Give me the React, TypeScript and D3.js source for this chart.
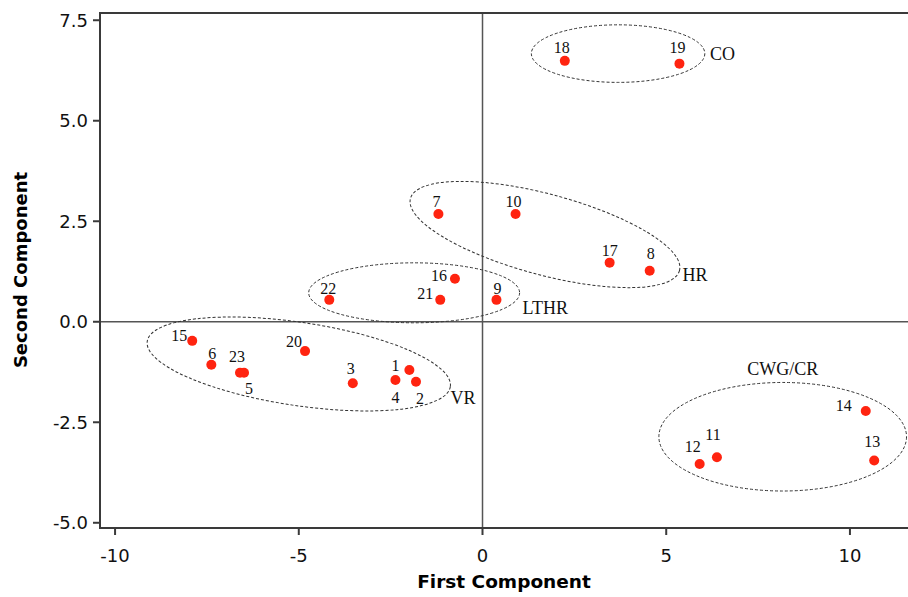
import React from "react";
import * as d3 from "d3";

// ---- data ----
const pointIds = ["1","2","3","4","5","6","7","8","9","10","11","12","13","14","15","16","17","18","19","20","21","22","23"];
const firstComp = [-1.99, -1.81, -3.53, -2.37, -6.49, -7.38, -1.20, 4.55, 0.38, 0.90, 6.38, 5.91, 10.66, 10.43, -7.90, -0.75, 3.46, 2.24, 5.36, -4.83, -1.15, -4.17, -6.60];
const secondComp = [-1.20, -1.49, -1.53, -1.45, -1.27, -1.07, 2.68, 1.27, 0.545, 2.68, -3.37, -3.54, -3.45, -2.22, -0.475, 1.07, 1.47, 6.49, 6.42, -0.73, 0.545, 0.545, -1.27];

const xTicks = [-10, -5, 0, 5, 10];
const xTickLabels = ["-10", "-5", "0", "5", "10"];
const yTicks = [7.5, 5, 2.5, 0, -2.5, -5];
const yTickLabels = ["7.5", "5.0", "2.5", "0.0", "-2.5", "-5.0"];

const groupNames = ["CO", "HR", "LTHR", "VR", "CWG/CR"];
const groupCx = [3.69, 1.70, -1.86, -5.0, 8.17];
const groupCy = [6.67, 2.17, 0.72, -1.05, -2.86];
const groupRx = [2.36, 3.79, 2.87, 4.17, 3.37];
const groupRy = [0.716, 1.005, 0.746, 1.035, 1.35];
const groupAngle = [0, 15, 0, 8.5, 0];
const groupLabelX = [6.19, 5.44, 1.09, -0.87, 8.17];
const groupLabelY = [6.67, 1.16, 0.34, -1.90, -1.16];

// ---- layout (label placement) ----
const labelPlacement: Record<string, [number, number, string]> = {
  "1": [-10, 1, "end"], "2": [4, 22, "middle"], "3": [-2, -9, "middle"], "4": [0, 23, "middle"],
  "5": [5, 21, "middle"], "6": [1, -6, "middle"], "7": [-2, -7, "middle"], "8": [1, -12, "middle"],
  "9": [1, -6, "middle"], "10": [-2, -7, "middle"], "11": [-4, -17, "middle"], "12": [-7, -12, "middle"],
  "13": [-2, -13, "middle"], "14": [-14, 0, "end"], "15": [-5, 0, "end"], "16": [-8, 2, "end"],
  "17": [0, -7, "middle"], "18": [-3, -8, "middle"], "19": [-2, -11, "middle"], "20": [-3, -4, "end"],
  "21": [-7, -1, "end"], "22": [-1, -6, "middle"], "23": [-3, -11, "middle"],
};
const groupAnchor = ["start", "start", "start", "start", "middle"];

const W = 908, H = 597;
const L = 100, R = 908, T = 13, B = 528;

export default function App() {
  const x = d3.scaleLinear().domain([-10.41, 11.58]).range([L, R]);
  const y = d3.scaleLinear().domain([-5.13, 7.68]).range([B, T]);
  const kx = Math.abs(x(1) - x(0));
  const ky = Math.abs(y(1) - y(0));
  const tickFont = "'DejaVu Sans', Verdana, sans-serif";
  const serif = "'Liberation Serif', 'Times New Roman', serif";
  const axisColor = "#3a3a3a";

  return (
    <svg width={W} height={H} style={{ position: "absolute", left: 0, top: 0, background: "#fff" }}>
      {/* zero lines */}
      <line x1={x(0)} x2={x(0)} y1={T} y2={B} stroke="#555" strokeWidth={1.5} />
      <line x1={L} x2={R} y1={y(0)} y2={y(0)} stroke="#555" strokeWidth={1.5} />

      {/* group ellipses */}
      {groupNames.map((g, i) => (
        <ellipse
          key={g}
          cx={x(groupCx[i])}
          cy={y(groupCy[i])}
          rx={groupRx[i] * kx}
          ry={groupRy[i] * ky}
          transform={`rotate(${groupAngle[i]} ${x(groupCx[i])} ${y(groupCy[i])})`}
          fill="none"
          stroke="#333"
          strokeWidth={1}
          strokeDasharray="3,2"
        />
      ))}
      {groupNames.map((g, i) => (
        <text
          key={"gl" + g}
          x={x(groupLabelX[i])}
          y={y(groupLabelY[i])}
          dy="0.35em"
          textAnchor={groupAnchor[i] as any}
          fontFamily={serif}
          fontSize={18}
          fill="#111"
        >
          {g}
        </text>
      ))}

      {/* points */}
      {pointIds.map((id, i) => (
        <circle key={"p" + id} cx={x(firstComp[i])} cy={y(secondComp[i])} r={5} fill="#ff2410" />
      ))}
      {pointIds.map((id, i) => {
        const [dx, dy, anchor] = labelPlacement[id];
        return (
          <text
            key={"t" + id}
            x={x(firstComp[i]) + dx}
            y={y(secondComp[i]) + dy}
            textAnchor={anchor as any}
            fontFamily={serif}
            fontSize={16}
            fill="#111"
          >
            {id}
          </text>
        );
      })}

      {/* frame / axes */}
      <line x1={L} x2={R} y1={T} y2={T} stroke={axisColor} strokeWidth={2.2} />
      <line x1={L} x2={L} y1={T - 1} y2={B + 1} stroke={axisColor} strokeWidth={2} />
      <line x1={L - 1} x2={R} y1={B} y2={B} stroke={axisColor} strokeWidth={2} />

      {yTicks.map((t, i) => (
        <g key={"yt" + t}>
          <line x1={L - 7} x2={L} y1={y(t)} y2={y(t)} stroke={axisColor} strokeWidth={2} />
          <text x={L - 12} y={y(t)} dy="0.36em" textAnchor="end" fontFamily={tickFont} fontSize={18} fill="#111">
            {yTickLabels[i]}
          </text>
        </g>
      ))}
      {xTicks.map((t, i) => (
        <g key={"xt" + t}>
          <line x1={x(t)} x2={x(t)} y1={B} y2={B + 7} stroke={axisColor} strokeWidth={2} />
          <text x={x(t)} y={B + 34} textAnchor="middle" fontFamily={tickFont} fontSize={18} fill="#111">
            {xTickLabels[i]}
          </text>
        </g>
      ))}

      <text x={(L + R) / 2} y={588} textAnchor="middle" fontFamily={tickFont} fontWeight="bold" fontSize={18.5} fill="#000">
        First Component
      </text>
      <text
        transform={`translate(27, 270) rotate(-90)`}
        textAnchor="middle"
        fontFamily={tickFont}
        fontWeight="bold"
        fontSize={18}
        fill="#000"
      >
        Second Component
      </text>
    </svg>
  );
}
